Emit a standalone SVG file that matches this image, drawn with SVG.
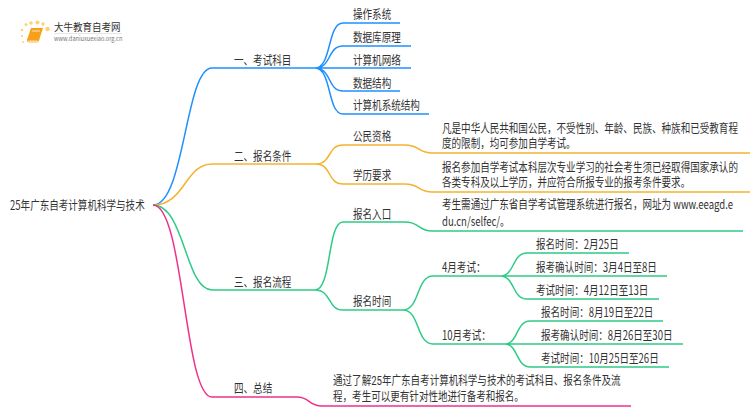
<svg xmlns="http://www.w3.org/2000/svg" width="750" height="410" viewBox="0 0 750 410">
<style>
text{font-family:"Noto Sans CJK SC","Noto Sans",sans-serif;font-size:12.5px;fill:#333}
text.m{font-family:Roboto,"Noto Sans CJK SC",sans-serif}
.c path{fill:none;stroke-width:1.5}
.b{stroke:#1e90ff}.o{stroke:#f5b230}.g{stroke:#2ecb86}.p{stroke:#f0318a}
</style>
<rect width="750" height="410" fill="#fff"/>
<g id="logo">
<g fill="#fbd36f"><circle cx="47.500" cy="29" r="2.300"/><circle cx="37.500" cy="22.500" r="2"/><circle cx="31" cy="23" r="1.800"/><circle cx="26" cy="24.500" r="1.500"/><circle cx="22" cy="30" r="1.300"/><circle cx="22" cy="36" r="1.100"/><circle cx="23" cy="42" r="1"/><circle cx="43" cy="24" r="1.700"/></g>
<path d="M31 28H43L39 40.500Q38.500 42 37 42H28Q26.500 42 27 40Z" fill="#f7a11a"/><path d="M27.500 40.500H38L37.500 43H28.500Z" fill="#fbd9a0"/><path d="M32 31H40" stroke="#fff" stroke-width=".7"/>
<text transform="translate(54 31) scale(.88 1)" style="font-size:10.800px">大牛教育自考网</text>
<path d="M54 33.500H122" stroke="#ccc" stroke-width=".5"/>
<text transform="translate(54 41) scale(.9 1)" style="font-size:6.300px;fill:#777">www.daniuxuexiao.org.cn</text>
</g>
<g id="connectors" class="c">
<path class="b" d="M153 205C185 205 185 68 212 68H315M315 68C332 68 327 23 343 23H400M315 68C332 68 327 46 343 46H411M315 68H411M315 68C332 68 327 91 343 91H400M315 68C332 68 327 114 343 114H429"/>
<path class="o" d="M153 205C185 205 185 164 212 164H316M316 164C332 164 327 145 343 145H405C420 145 418 153 432 153H750M316 164C332 164 327 184 343 184H405C420 184 418 192 432 192H750"/>
<path class="g" d="M153 205C185 205 185 290 212 290H315M315 290C332 290 327 222 343 222H405C420 222 418 231 432 231H743M315 290C332 290 327 310 343 310H403M403 310C420 310 416 276 433 276H500M403 310C420 310 416 344 433 344H505M500 276C515 276 512 253 527 253H629M500 276H667M500 276C515 276 512 299 527 299H659M505 344C518 344 516 321 530 321H663M505 344H683M505 344C518 344 516 367 530 367H669"/>
<path class="p" d="M153 205C184 205 184 397 212 397H297C310 397 308 406 322 406H631"/>
</g>
<g id="root"><text transform="translate(10 209.500) scale(.765 1)">25年广东自考计算机科学与技术</text></g>
<g id="n1"><text transform="translate(234 64.500) scale(.765 1)">一、考试科目</text></g>
<g id="n1a"><text transform="translate(353 18.500) scale(.765 1)">操作系统</text></g>
<g id="n1b"><text transform="translate(353 41.500) scale(.765 1)">数据库原理</text></g>
<g id="n1c"><text transform="translate(353 64.500) scale(.765 1)">计算机网络</text></g>
<g id="n1d"><text transform="translate(353 87.500) scale(.765 1)">数据结构</text></g>
<g id="n1e"><text transform="translate(353 109.500) scale(.765 1)">计算机系统结构</text></g>
<g id="n2"><text transform="translate(234 160.500) scale(.765 1)">二、报名条件</text></g>
<g id="n2a"><text transform="translate(353 140.500) scale(.765 1)">公民资格</text></g>
<g id="n2a1"><text class="m" transform="translate(442 132.500) scale(.765 1)"><tspan x="0" y="0">凡是中华人民共和国公民，不受性别、年龄、民族、种族和已受教育程</tspan><tspan x="0" y="15.500">度的限制，均可参加自学考试。</tspan></text></g>
<g id="n2b"><text transform="translate(353 179.500) scale(.765 1)">学历要求</text></g>
<g id="n2b1"><text class="m" transform="translate(442 171.500) scale(.765 1)"><tspan x="0" y="0">报名参加自学考试本科层次专业学习的社会考生须已经取得国家承认的</tspan><tspan x="0" y="15.500">各类专科及以上学历，并应符合所报专业的报考条件要求。</tspan></text></g>
<g id="n3"><text transform="translate(234 286.500) scale(.765 1)">三、报名流程</text></g>
<g id="n3a"><text transform="translate(353 218.500) scale(.765 1)">报名入口</text></g>
<g id="n3a1"><text transform="translate(442 209) scale(.765 1)"><tspan x="0" y="0">考生需通过广东省自学考试管理系统进行报名，网址为 www.eeagd.e</tspan><tspan x="0" y="17">du.cn/selfec/。</tspan></text></g>
<g id="n3b"><text transform="translate(353 305.500) scale(.765 1)">报名时间</text></g>
<g id="n3b1"><text transform="translate(442 272) scale(.765 1)">4月考试：</text></g>
<g id="n3b1a"><text transform="translate(536 249) scale(.765 1)">报名时间：2月25日</text></g>
<g id="n3b1b"><text transform="translate(536 272) scale(.765 1)">报考确认时间：3月4日至8日</text></g>
<g id="n3b1c"><text transform="translate(536 294.500) scale(.765 1)">考试时间：4月12日至13日</text></g>
<g id="n3b2"><text transform="translate(442 340) scale(.765 1)">10月考试：</text></g>
<g id="n3b2a"><text transform="translate(541 317) scale(.765 1)">报名时间：8月19日至22日</text></g>
<g id="n3b2b"><text transform="translate(541 340) scale(.765 1)">报考确认时间：8月26日至30日</text></g>
<g id="n3b2c"><text transform="translate(541 362.500) scale(.765 1)">考试时间：10月25日至26日</text></g>
<g id="n4"><text transform="translate(234 393) scale(.765 1)">四、总结</text></g>
<g id="n4a"><text class="m" transform="translate(333 385) scale(.765 1)"><tspan x="0" y="0">通过了解25年广东自考计算机科学与技术的考试科目、报名条件及流</tspan><tspan x="0" y="16">程，考生可以更有针对性地进行备考和报名。</tspan></text></g>
</svg>
